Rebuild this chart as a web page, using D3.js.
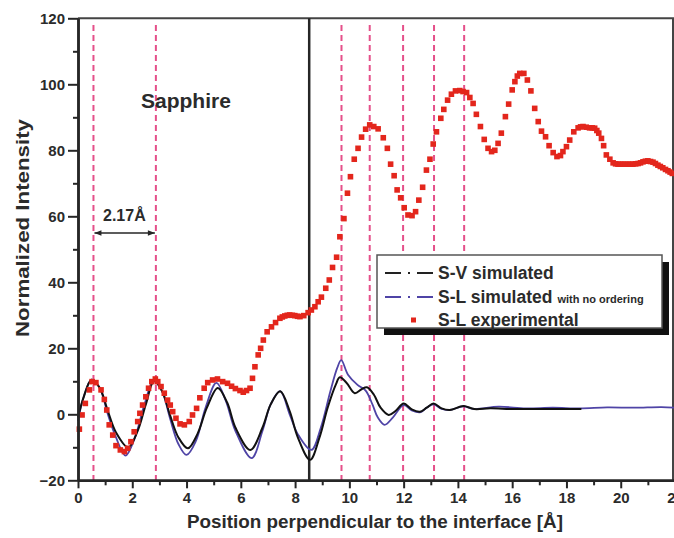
<!DOCTYPE html>
<html>
<head>
<meta charset="utf-8">
<script src="https://cdn.jsdelivr.net/npm/d3@7"></script>
<style>
  body { margin: 0; background: #fff; }
  text { font-family: 'Liberation Sans', Arial, sans-serif; font-weight: bold; fill: #2b2b2b; }
</style>
</head>
<body>
<svg id="chart" width="674" height="538"></svg>
<script>
// S-L experimental (red squares), [position, intensity]
const expData = [
  [0.05,-4.5],[0.15,-0.2],[0.27,3.3],[0.42,7.4],[0.52,9.9],[0.66,9.6],[0.85,7.4],[0.97,4.5],
  [1.06,1.3],[1.15,-3.2],[1.28,-6.3],[1.40,-9.5],[1.56,-10.8],[1.71,-11.3],[1.83,-10.3],[1.95,-8.3],
  [2.07,-5.3],[2.20,-2.2],[2.28,0.3],[2.38,2.8],[2.50,5.3],[2.60,7.9],[2.72,9.9],[2.85,10.7],
  [2.94,9.9],[3.06,8.4],[3.18,6.4],[3.30,4.3],[3.40,2.8],[3.49,0.8],[3.61,-1.2],[3.76,-2.9],
  [3.92,-3.2],[4.10,-2.2],[4.22,-0.2],[4.37,1.8],[4.49,5],[4.65,7.9],[4.78,9.6],[4.96,10.4],
  [5.14,10.7],[5.33,9.9],[5.51,9.4],[5.66,8.5],[5.80,7.8],[5.97,7.2],[6.09,6.7],[6.21,7.2],
  [6.34,7.9],[6.43,10.9],[6.52,14.4],[6.64,18],[6.73,20],[6.83,22.5],[6.97,25],[7.13,26.5],
  [7.28,27.8],[7.44,29.1],[7.53,29.5],[7.62,29.8],[7.71,30],[7.80,30.1],[7.90,30],[7.99,29.9],
  [8.09,29.7],[8.18,29.6],[8.32,29.9],[8.48,30.8],[8.60,31.6],[8.73,32.6],[8.85,34.1],[8.97,35.5],
  [9.13,38.2],[9.26,40.7],[9.38,44.5],[9.53,47.6],[9.65,53.8],[9.80,59.3],[9.93,67],[10.04,72],
  [10.18,77.3],[10.32,80.6],[10.45,84],[10.60,86.4],[10.75,87.7],[10.90,87.2],[11.06,86.5],[11.25,83.8],
  [11.40,80.6],[11.52,75.8],[11.65,72.3],[11.76,68],[11.89,65.6],[12.02,62.6],[12.16,60.4],[12.31,60.2],
  [12.44,61.4],[12.56,64.9],[12.70,68.8],[12.84,74],[12.97,77.3],[13.09,81.9],[13.21,85.6],[13.37,89.7],
  [13.48,92.4],[13.62,95.2],[13.76,97],[13.91,98],[14.07,98.1],[14.19,97.8],[14.32,97.5],[14.44,96],
  [14.56,94.2],[14.68,90.9],[14.83,87.2],[14.97,83.3],[15.11,80.6],[15.24,79.6],[15.36,80],[15.48,82.1],
  [15.60,85.2],[15.75,90.2],[15.87,94],[16.00,98.3],[16.10,100.8],[16.19,102.5],[16.28,103.3],[16.43,103.3],
  [16.56,101.3],[16.69,98],[16.83,92.7],[16.96,88.7],[17.08,85.8],[17.23,84.1],[17.36,81.4],[17.51,79.3],
  [17.65,78.1],[17.78,78.4],[17.87,79.6],[18.00,81.1],[18.12,83.1],[18.27,85.6],[18.43,86.8],[18.52,87.1],
  [18.61,87.2],[18.73,87],[18.85,86.8],[18.95,86.8],[19.04,86.7],[19.12,86],[19.19,85.2],[19.29,83.6],
  [19.37,81.4],[19.47,78.6],[19.60,77.3],[19.72,76.2],[19.81,75.9],[19.90,75.8],[19.99,75.8],[20.08,75.8],
  [20.17,75.8],[20.27,75.8],[20.36,75.8],[20.45,75.8],[20.55,75.9],[20.64,76],[20.73,76.2],[20.82,76.5],
  [20.91,76.7],[21.00,76.8],[21.10,76.6],[21.19,76.4],[21.28,76],[21.37,75.5],[21.46,75.1],[21.55,74.7],
  [21.65,74.2],[21.74,73.8],[21.82,73.4],[21.90,73]
]

// S-V simulated (black)
const svData = [
  [0,-1],[0.2,5],[0.5,10.5],[0.8,8],[1.1,1],[1.4,-5.5],[1.85,-10],[2.2,-5],[2.5,3],[2.8,10],
  [3.1,7],[3.4,-0.5],[3.7,-7],[4.05,-10.3],[4.4,-6],[4.75,2],[5.15,8],[5.5,3.5],[5.8,-4],[6.35,-10.8],
  [6.8,-4],[7.1,3],[7.45,7],[7.8,1],[8.1,-7],[8.55,-13.8],[8.9,-7],[9.2,2],[9.5,9],[9.65,11.2],
  [9.9,9.5],[10.2,6.4],[10.45,7.6],[10.65,8.2],[10.9,6],[11.15,2],[11.45,-0.2],[11.7,1],[12,3.3],
  [12.3,1.5],[12.6,0.8],[12.85,2],[13.1,3.3],[13.4,1.8],[13.7,1.3],[14.2,2.5],[14.6,1.6],[15.2,1.8],
  [16,1.6],[17,1.6],[18,1.6],[18.55,1.6]
]

// S-L simulated with no ordering (blue)
const slData = [
  [0,-2],[0.2,5],[0.5,10.5],[0.8,8],[1.1,0],[1.4,-7],[1.75,-12.5],[2.1,-7],[2.45,3],[2.8,10.5],
  [3.1,7],[3.4,-1.5],[3.7,-9],[4.0,-12.3],[4.35,-8],[4.7,2],[5.1,9.5],[5.45,4],[5.8,-5],[6.4,-13.3],
  [6.8,-5],[7.1,3],[7.45,7],[7.8,0],[8.1,-6],[8.6,-10.8],[8.95,-4],[9.3,7],[9.55,14],[9.7,16.4],
  [9.95,12],[10.3,8.9],[10.6,7.2],[10.85,3],[11.05,-1],[11.3,-3.2],[11.6,-1],[12,2.8],[12.3,1.2],
  [12.6,0.6],[12.85,2],[13.1,3],[13.4,1.6],[13.7,1.3],[14.2,2.4],[14.6,1.6],[15.5,2.3],[16.5,1.8],
  [17.5,2],[18.5,1.8],[19.5,2.1],[20.5,2],[21.5,2.2],[22,2]
]

const layerLines = [0.57, 2.87, 9.71, 10.75, 11.98, 13.12, 14.23]   // pink dashed
const interfaceX = 8.52                                              // solid black
const xTicks = [0, 2, 4, 6, 8, 10, 12, 14, 16, 18, 20, 22]
const xMinor = d3.range(1, 22, 2)
const yTicks = [-20, 0, 20, 40, 60, 80, 100, 120]
const yMinor = [-10, 10, 30, 50, 70, 90, 110]

const svg = d3.select('#chart'),
      X0 = 78, X1 = 675, Y0 = 480.3, Y1 = 18.3,
      x = d3.scaleLinear().domain([0, 22]).range([X0, X1]),
      y = d3.scaleLinear().domain([-20, 120]).range([Y0, Y1]),
      ink = '#262626',
      pink = '#e5508a'

// frame top + right
svg.append('path')
  .attr('d', `M${X0},${Y1}H673V${Y0}`)
  .attr('fill', 'none').attr('stroke', '#444').attr('stroke-width', 2)

// pink dashed layer markers
svg.append('g').selectAll('line').data(layerLines).join('line')
  .attr('x1', d => x(d)).attr('x2', d => x(d))
  .attr('y1', y(118)).attr('y2', Y0)
  .attr('stroke', pink).attr('stroke-width', 2).attr('stroke-dasharray', '6,4')

// interface
svg.append('line')
  .attr('x1', x(interfaceX)).attr('x2', x(interfaceX))
  .attr('y1', Y1).attr('y2', Y0)
  .attr('stroke', ink).attr('stroke-width', 2.5)

const line = d3.line().x(d => x(d[0])).y(d => y(d[1])).curve(d3.curveCatmullRom)

svg.append('path').datum(slData).attr('d', line)
  .attr('fill', 'none').attr('stroke', '#4f44a6').attr('stroke-width', 1.8)
svg.append('path').datum(svData).attr('d', line)
  .attr('fill', 'none').attr('stroke', '#111').attr('stroke-width', 2)

svg.append('g').selectAll('rect').data(expData).join('rect')
  .attr('x', d => x(d[0]) - 2.8).attr('y', d => y(d[1]) - 2.8)
  .attr('width', 5.6).attr('height', 5.6)
  .attr('fill', '#e3261c')

// axes
function styleAxis(g) {
  g.selectAll('.domain').attr('stroke', ink).attr('stroke-width', 2.5)
  g.selectAll('.tick line').attr('stroke', ink).attr('stroke-width', 2)
  g.selectAll('text').attr('fill', '#2b2b2b').style('font-size', '15px')
    .style('font-family', "'Liberation Sans', Arial, sans-serif").style('font-weight', 'bold')
}

svg.append('g').attr('transform', `translate(0,${Y0})`)
  .call(d3.axisBottom(x).tickValues(xMinor).tickSize(5).tickFormat('').tickSizeOuter(0))
  .call(styleAxis)
svg.append('g').attr('transform', `translate(0,${Y0})`)
  .call(d3.axisBottom(x).tickValues(xTicks).tickSize(8).tickPadding(4).tickSizeOuter(0))
  .call(styleAxis)
svg.append('g').attr('transform', `translate(${X0},0)`)
  .call(d3.axisLeft(y).tickValues(yMinor).tickSize(5).tickFormat('').tickSizeOuter(0))
  .call(styleAxis)
svg.append('g').attr('transform', `translate(${X0},0)`)
  .call(d3.axisLeft(y).tickValues(yTicks).tickSize(10).tickPadding(3).tickSizeOuter(0))
  .call(styleAxis)

// axis titles
svg.append('text')
  .attr('x', 375).attr('y', 528).attr('text-anchor', 'middle')
  .attr('textLength', 376).attr('lengthAdjust', 'spacingAndGlyphs')
  .style('font-size', '18px')
  .text('Position perpendicular to the interface [Å]')
svg.append('text')
  .attr('transform', 'translate(29,228) rotate(-90)').attr('text-anchor', 'middle')
  .attr('textLength', 218).attr('lengthAdjust', 'spacingAndGlyphs')
  .style('font-size', '19px')
  .text('Normalized Intensity')

// annotations
svg.append('text').attr('x', 141).attr('y', 108).style('font-size', '21px').text('Sapphire')
svg.append('text').attr('x', 103).attr('y', 221).style('font-size', '16px').text('2.17Å')

const defs = svg.append('defs')
defs.append('marker').attr('id', 'ah').attr('viewBox', '0 0 10 10')
  .attr('refX', 10).attr('refY', 5).attr('markerWidth', 9).attr('markerHeight', 7)
  .attr('orient', 'auto-start-reverse').attr('markerUnits', 'userSpaceOnUse')
  .append('path').attr('d', 'M0,1L10,5L0,9Z').attr('fill', ink)
svg.append('line')
  .attr('x1', x(layerLines[0]) + 1).attr('x2', x(layerLines[1]) - 1)
  .attr('y1', 233).attr('y2', 233)
  .attr('stroke', ink).attr('stroke-width', 1.5)
  .attr('marker-start', 'url(#ah)').attr('marker-end', 'url(#ah)')

// legend
const lg = svg.append('g')
lg.append('rect').attr('x', 384).attr('y', 262).attr('width', 285).attr('height', 73).attr('fill', '#111')
lg.append('rect').attr('x', 377).attr('y', 255).attr('width', 285).attr('height', 73)
  .attr('fill', '#fff').attr('stroke', '#555').attr('stroke-width', 1.5)

const items = [
  { label: 'S-V simulated', color: '#222', type: 'line', y: 273 },
  { label: 'S-L simulated', extra: 'with no ordering', color: '#4f44a6', type: 'line', y: 297 },
  { label: 'S-L experimental', color: '#e3261c', type: 'rect', y: 320 }
]
items.forEach(it => {
  if (it.type === 'line')
    lg.append('line').attr('x1', 385).attr('x2', 434).attr('y1', it.y).attr('y2', it.y)
      .attr('stroke', it.color).attr('stroke-width', 1.8).attr('stroke-dasharray', '16,7,2,7')
  else
    lg.append('rect').attr('x', 411).attr('y', it.y - 2.5).attr('width', 5).attr('height', 5).attr('fill', it.color)
  const t = lg.append('text').attr('x', 438).attr('y', it.y + 6).style('font-size', '17.5px').text(it.label)
  if (it.extra) t.append('tspan').attr('dx', 5).style('font-size', '11px').text(it.extra)
})
</script>
</body>
</html>
